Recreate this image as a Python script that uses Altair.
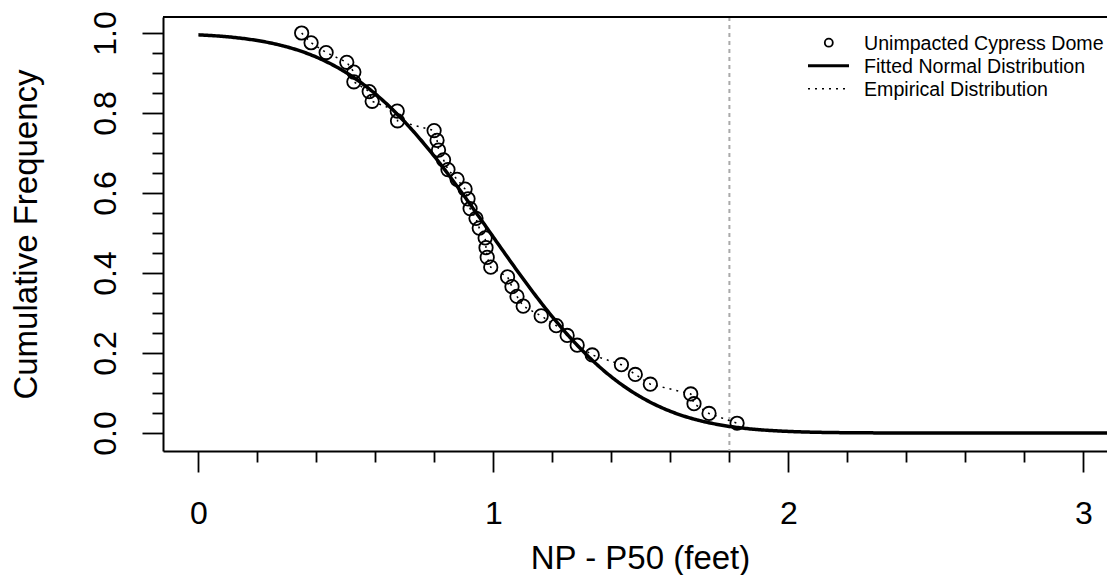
import altair as alt
import pandas as pd

# ---- data ----
EMP_X = [0.350, 0.382, 0.433, 0.503, 0.527, 0.527, 0.579, 0.589, 0.674, 0.675,
         0.799, 0.809, 0.814, 0.831, 0.846, 0.877, 0.904, 0.914, 0.921, 0.941,
         0.952, 0.972, 0.975, 0.979, 0.991, 1.048, 1.063, 1.080, 1.101, 1.162,
         1.213, 1.250, 1.284, 1.335, 1.434, 1.481, 1.532, 1.669, 1.680, 1.731,
         1.826]
EMP_Y = [1.0000, 0.9756, 0.9512, 0.9268, 0.9024, 0.8780, 0.8537, 0.8293, 0.8049, 0.7805,
         0.7561, 0.7317, 0.7073, 0.6829, 0.6585, 0.6341, 0.6098, 0.5854, 0.5610, 0.5366,
         0.5122, 0.4878, 0.4634, 0.4390, 0.4146, 0.3902, 0.3659, 0.3415, 0.3171, 0.2927,
         0.2683, 0.2439, 0.2195, 0.1951, 0.1707, 0.1463, 0.1220, 0.0976, 0.0732, 0.0488,
         0.0244]
FIT_MEAN = 0.99
FIT_SD = 0.38
THRESHOLD_X = [1.8]
X_TICKS = [0, 0.2, 0.4, 0.6, 0.8, 1.0, 1.2, 1.4, 1.6, 1.8, 2.0, 2.2, 2.4, 2.6, 2.8, 3.0]
Y_TICKS = [0, 0.05, 0.1, 0.15, 0.2, 0.25, 0.3, 0.35, 0.4, 0.45, 0.5,
           0.55, 0.6, 0.65, 0.7, 0.75, 0.8, 0.85, 0.9, 0.95, 1.0]
LEGEND_LABELS = ["Unimpacted Cypress Dome", "Fitted Normal Distribution", "Empirical Distribution"]
X_TITLE = "NP - P50 (feet)"
Y_TITLE = "Cumulative Frequency"

FONT = "Liberation Sans"
W, H = 944, 434

is_int = "abs(datum.value - round(datum.value)) < 1e-6"
is_major_y = "abs(datum.value * 5 - round(datum.value * 5)) < 1e-6"

x_axis = alt.Axis(
    values=X_TICKS, title=X_TITLE, grid=False,
    domainColor="black", domainWidth=2,
    tickColor="black", tickWidth=1.8,
    tickSize={"condition": {"test": is_int, "value": 21}, "value": 11},
    labelExpr=f"{is_int} ? format(datum.value, 'd') : ''",
    labelFont=FONT, labelFontSize=32, labelColor="black", labelPadding=26,
    labelOverlap=False, labelFlush=False,
    titleFont=FONT, titleFontSize=33, titleFontWeight="normal", titleColor="black",
    titleX=477, titleY=117, titleBaseline="alphabetic", titleAlign="center",
)
y_axis = alt.Axis(
    values=Y_TICKS, title=Y_TITLE, grid=False,
    domainColor="black", domainWidth=2,
    tickColor="black", tickWidth=1.8,
    tickSize={"condition": {"test": is_major_y, "value": 21}, "value": 11},
    labelExpr=f"{is_major_y} ? format(datum.value, '.1f') : ''",
    labelFont=FONT, labelFontSize=32, labelColor="black", labelPadding=27,
    labelAngle=270, labelAlign="center", labelBaseline="alphabetic",
    labelOverlap=False, labelFlush=False,
    titleFont=FONT, titleFontSize=33, titleFontWeight="normal", titleColor="black",
    titleAngle=270, titleX=-127, titleY=217, titleBaseline="alphabetic", titleAlign="center",
)

x_scale = alt.Scale(domain=[-0.12, 3.08], nice=False, zero=False)
y_scale = alt.Scale(domain=[-0.045, 1.04], nice=False, zero=False)


def xe():
    return alt.X("x:Q", scale=x_scale, axis=x_axis)


def ye():
    return alt.Y("y:Q", scale=y_scale, axis=y_axis)


emp = pd.DataFrame({"x": EMP_X, "y": EMP_Y, "i": list(range(len(EMP_X)))})

vline = alt.Chart(pd.DataFrame({"x": THRESHOLD_X})).mark_rule(
    color="#aaaaaa", strokeWidth=2, strokeDash=[4, 4]
).encode(x=xe())

fitted = alt.Chart(alt.sequence(0, 3.09, 0.005, as_="x")).transform_calculate(
    y=f"1 - cumulativeNormal(datum.x, {FIT_MEAN}, {FIT_SD})"
).mark_line(color="black", strokeWidth=3.5, clip=True).encode(x=xe(), y=ye())

emp_line = alt.Chart(emp).mark_line(
    color="black", strokeWidth=1.5, strokeDash=[2, 5]
).encode(x=xe(), y=ye(), order="i:Q")

emp_pts = alt.Chart(emp).mark_point(
    shape="circle", filled=False, color="black", size=180, strokeWidth=1.8, opacity=1
).encode(x=xe(), y=ye())

top_border = alt.Chart(pd.DataFrame({"k": [0]})).mark_rule(
    color="black", strokeWidth=2
).encode(x=alt.value(0), x2=alt.value(W), y=alt.value(0))

# ---- legend (drawn manually, R style) ----
leg_sym_y = [25.7, 48.7, 71.7]
leg_txt_y = [33.0, 56.0, 79.0]
leg_pt = alt.Chart(pd.DataFrame({"label": [LEGEND_LABELS[0]]})).mark_point(
    shape="circle", filled=False, color="black", size=64, strokeWidth=1.8, opacity=1
).encode(x=alt.value(665.8), y=alt.value(leg_sym_y[0]))
leg_fit = alt.Chart(pd.DataFrame({"label": [LEGEND_LABELS[1]]})).mark_rule(
    color="black", strokeWidth=3
).encode(x=alt.value(645), x2=alt.value(686), y=alt.value(leg_sym_y[1]))
leg_emp = alt.Chart(pd.DataFrame({"label": [LEGEND_LABELS[2]]})).mark_rule(
    color="black", strokeWidth=1.5, strokeDash=[2, 5]
).encode(x=alt.value(645), x2=alt.value(686), y=alt.value(leg_sym_y[2]))
leg_texts = [
    alt.Chart(pd.DataFrame({"label": [lab]})).mark_text(
        align="left", baseline="alphabetic", font=FONT, fontSize=19.6, color="black"
    ).encode(x=alt.value(701), y=alt.value(ty), text="label:N")
    for lab, ty in zip(LEGEND_LABELS, leg_txt_y)
]

chart = alt.layer(
    vline, fitted, emp_line, emp_pts, top_border, leg_pt, leg_fit, leg_emp, *leg_texts
).properties(
    width=W, height=H,
    autosize=alt.AutoSizeParams(type="none"),
    padding={"left": 155, "top": 9, "right": 0, "bottom": 124},
    background="white",
).configure_view(stroke=None)

chart.save("out.html", embed_options={"renderer": "svg", "actions": False})
